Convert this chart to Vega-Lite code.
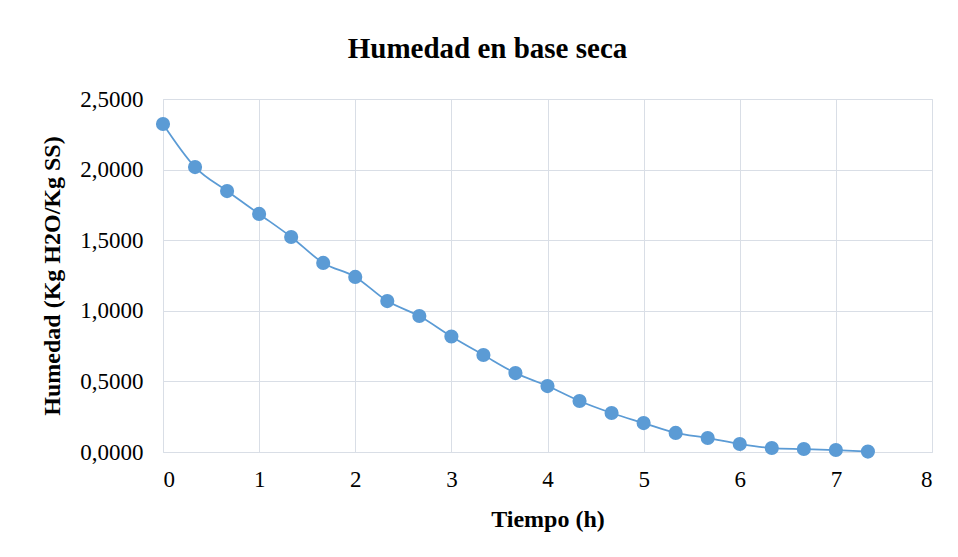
{
  "$schema": "https://vega.github.io/schema/vega-lite/v6.json",
  "width": 769,
  "height": 353,
  "autosize": {"type": "none"},
  "padding": {"left": 163, "top": 99, "right": 26, "bottom": 105},
  "background": "white",
  "config": {
    "locale": {"number": {"decimal": ",", "thousands": ".", "grouping": [3], "currency": ["", " €"]}},
    "font": "Liberation Serif",
    "view": {"stroke": "#D9DEE6", "strokeWidth": 1},
    "axis": {"gridColor": "#D9DEE6", "gridWidth": 1, "ticks": false, "domain": false, "labelFont": "Liberation Serif", "titleFont": "Liberation Serif", "labelColor": "#000", "titleColor": "#000"}
  },
  "title": {"text": "Humedad en base seca", "font": "Liberation Serif", "fontSize": 29, "fontWeight": "bold", "color": "#000", "anchor": "middle", "dx": -60, "offset": 24},
  "data": {"values": [
    {"t": 0, "h": 2.323},
    {"t": 0.3333, "h": 2.018},
    {"t": 0.6667, "h": 1.848},
    {"t": 1, "h": 1.686},
    {"t": 1.3333, "h": 1.523},
    {"t": 1.6667, "h": 1.339},
    {"t": 2, "h": 1.240},
    {"t": 2.3333, "h": 1.069},
    {"t": 2.6667, "h": 0.963},
    {"t": 3, "h": 0.818},
    {"t": 3.3333, "h": 0.687},
    {"t": 3.6667, "h": 0.559},
    {"t": 4, "h": 0.467},
    {"t": 4.3333, "h": 0.361},
    {"t": 4.6667, "h": 0.276},
    {"t": 5, "h": 0.205},
    {"t": 5.3333, "h": 0.135},
    {"t": 5.6667, "h": 0.099},
    {"t": 6, "h": 0.057},
    {"t": 6.3333, "h": 0.028},
    {"t": 6.6667, "h": 0.021},
    {"t": 7, "h": 0.014},
    {"t": 7.3333, "h": 0.003}
  ]},
  "encoding": {
    "x": {"field": "t", "type": "quantitative", "scale": {"domain": [0, 8], "nice": false}, "axis": {"title": "Tiempo (h)", "values": [0,1,2,3,4,5,6,7,8], "labelFontSize": 23, "labelPadding": 16, "titleFontSize": 24, "titleFontWeight": "bold", "titlePadding": 16, "grid": true}},
    "y": {"field": "h", "type": "quantitative", "scale": {"domain": [0, 2.5], "nice": false}, "axis": {"title": "Humedad (Kg H2O/Kg SS)", "values": [0, 0.5, 1, 1.5, 2, 2.5], "format": ",.4f", "labelFontSize": 23, "labelPadding": 20, "titleFontSize": 24, "titleFontWeight": "bold", "titlePadding": 15, "grid": true}}
  },
  "layer": [
    {"mark": {"type": "line", "color": "#5B9BD5", "strokeWidth": 1.75, "interpolate": "monotone"}},
    {"mark": {"type": "point", "filled": true, "color": "#5B9BD5", "opacity": 1, "size": 200}}
  ]
}
